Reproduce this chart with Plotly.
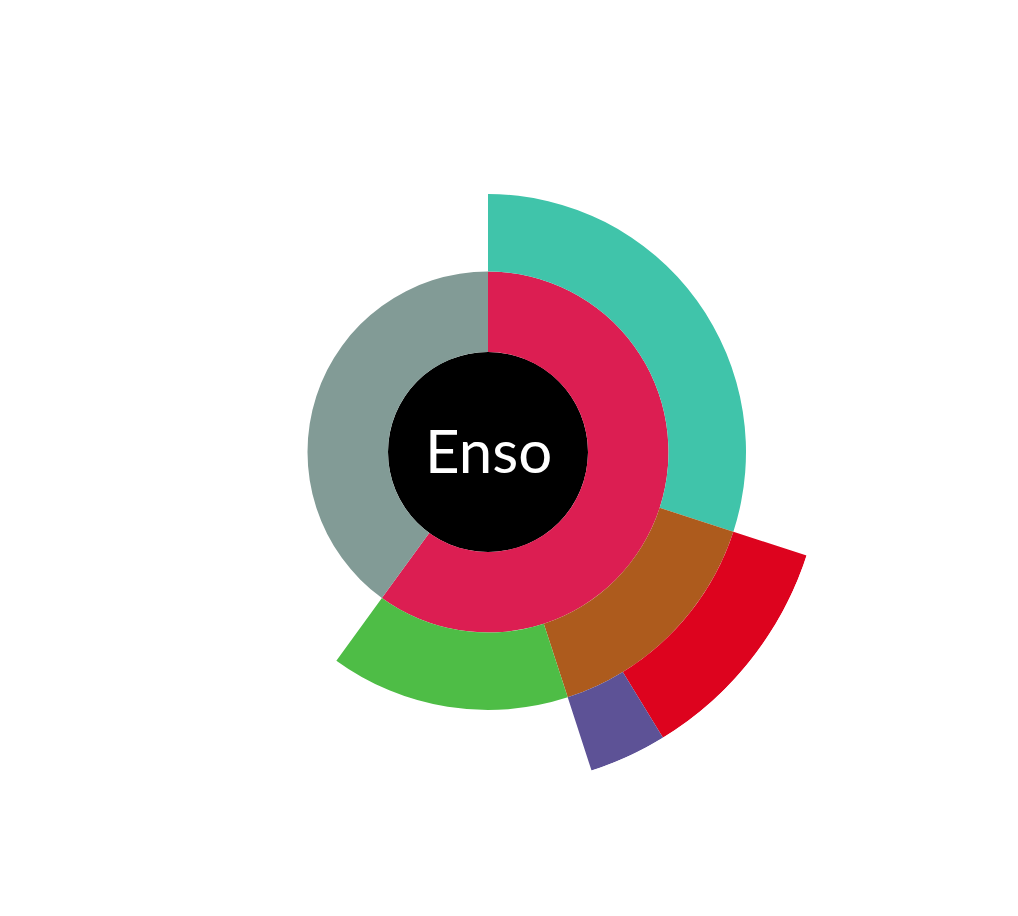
import plotly.graph_objects as go

# Hierarchy data (values in percent of the whole)
names = ["Enso", "Red", "Gray", "Teal", "Brown", "Green", "Crimson", "Purple"]
parents = ["", "Enso", "Enso", "Red", "Red", "Red", "Brown", "Brown"]
values = [100, 60, 40, 30, 15, 15, 11.25, 3.75]
colors = ["#000000", "#DC1E52", "#829B96", "#40C4AA", "#AD5B1D", "#4EBD46", "#DD031E", "#5D5296"]

# radial boundaries per depth (center disk, then rings)
ring_edges = [0, 100, 180.5, 258, 335]

# compute depth and angular start for each node
depth = {}
start = {}
for n, p in zip(names, parents):
    depth[n] = 0 if p == "" else depth[p] + 1
cursor = {}
for n, p, v in zip(names, parents, values):
    if p == "":
        start[n] = 0.0
    else:
        s = cursor.get(p, start[p])
        start[n] = s
        cursor[p] = s + v
val = dict(zip(names, values))

fig = go.Figure()
for n, c in zip(names, colors):
    d = depth[n]
    w = val[n] * 3.6
    th = start[n] * 3.6 + w / 2
    fig.add_trace(go.Barpolar(
        r=[ring_edges[d + 1] - ring_edges[d]],
        base=[ring_edges[d]],
        theta=[th],
        width=[w],
        marker=dict(color=c, line=dict(width=0)),
        hoverinfo="text",
        hovertext=[n],
        showlegend=False,
    ))

fig.add_annotation(
    x=0.5, y=0.5, xref="paper", yref="paper",
    text="Enso", showarrow=False, yshift=2,
    xanchor="center", yanchor="middle",
    font=dict(family="Lato", size=60, color="#ffffff"),
)

fig.update_layout(
    width=1018, height=916,
    margin=dict(l=153, r=195, t=117, b=129),
    paper_bgcolor="#ffffff",
    polar=dict(
        barmode="overlay",
        bgcolor="#ffffff",
        domain=dict(x=[0, 1], y=[0, 1]),
        radialaxis=dict(range=[0, 335], visible=False, showgrid=False),
        angularaxis=dict(direction="clockwise", rotation=90, visible=False, showgrid=False),
    ),
)

fig.write_html("out.html")
